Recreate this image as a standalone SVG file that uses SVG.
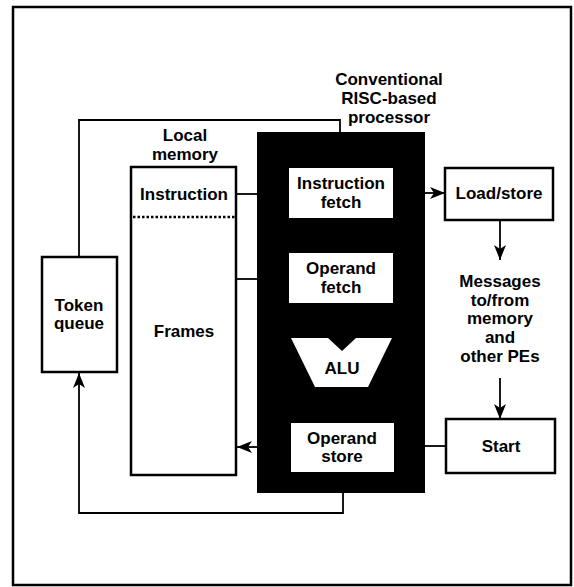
<svg xmlns="http://www.w3.org/2000/svg" width="574" height="587" viewBox="0 0 574 587">
<style>
.box{fill:#fff;stroke:#000;stroke-width:2.5}
.ln{fill:none;stroke:#000;stroke-width:1.8}
.t{font-family:"Liberation Sans",Arial,Helvetica,sans-serif;font-size:17px;font-weight:bold;text-anchor:middle;fill:#000}
</style>
<defs>
<marker id="ah" markerUnits="userSpaceOnUse" markerWidth="16" markerHeight="12" refX="15" refY="6" orient="auto">
<path d="M0,0 L15,6 L0,12 L4,6 Z" fill="#000"/>
</marker>
</defs>
<rect x="13" y="7" width="558" height="578" fill="#fff" stroke="#000" stroke-width="2.5"/>

<g id="connectors">
<polyline class="ln" points="79,257 79,120 340,120 340,132"/>
<polyline class="ln" points="343,493 343,513 79,513 79,373" marker-end="url(#ah)"/>
<line class="ln" x1="236" y1="194" x2="258" y2="194"/>
<line class="ln" x1="236" y1="279" x2="258" y2="279"/>
<line class="ln" x1="257" y1="447" x2="237" y2="447" marker-end="url(#ah)"/>
<line class="ln" x1="425" y1="193" x2="445" y2="193" marker-end="url(#ah)"/>
<line class="ln" x1="500" y1="220" x2="500" y2="260" marker-end="url(#ah)"/>
<line class="ln" x1="500" y1="378" x2="500" y2="419" marker-end="url(#ah)"/>
<line class="ln" x1="425" y1="446" x2="446" y2="446"/>
</g>

<g id="token-queue">
<rect class="box" x="42" y="257" width="75" height="115"/>
<text class="t" x="79" y="311">Token</text>
<text class="t" x="79" y="329">queue</text>
</g>

<g id="local-memory">
<text class="t" x="185" y="141">Local</text>
<text class="t" x="185" y="160">memory</text>
<rect class="box" x="131" y="167" width="105" height="308"/>
<line x1="133" y1="217" x2="235" y2="217" stroke="#000" stroke-width="2.5" stroke-dasharray="2.5,2"/>
<text class="t" x="184" y="200">Instruction</text>
<text class="t" x="184" y="337">Frames</text>
</g>

<g id="processor">
<text class="t" x="389" y="85">Conventional</text>
<text class="t" x="389" y="104">RISC-based</text>
<text class="t" x="389" y="123">processor</text>
<rect x="257" y="132" width="168" height="361" fill="#000"/>
</g>

<g id="instruction-fetch">
<rect x="289" y="168" width="104" height="50" fill="#fff"/>
<text class="t" x="341" y="189">Instruction</text>
<text class="t" x="341" y="208">fetch</text>
</g>

<g id="operand-fetch">
<rect x="289" y="253" width="104" height="50" fill="#fff"/>
<text class="t" x="341" y="274">Operand</text>
<text class="t" x="341" y="293">fetch</text>
</g>

<g id="alu">
<polygon points="291,338 328,338 342,351 356,338 392,338 368,387 315,387" fill="#fff"/>
<text class="t" x="342" y="374">ALU</text>
</g>

<g id="operand-store">
<rect x="291" y="423" width="103" height="49" fill="#fff"/>
<text class="t" x="342" y="444">Operand</text>
<text class="t" x="342" y="462">store</text>
</g>

<g id="load-store">
<rect class="box" x="445" y="168" width="108" height="52"/>
<text class="t" x="499" y="199">Load/store</text>
</g>

<g id="messages">
<text class="t" x="500" y="287">Messages</text>
<text class="t" x="500" y="306">to/from</text>
<text class="t" x="500" y="324">memory</text>
<text class="t" x="500" y="343">and</text>
<text class="t" x="500" y="362">other PEs</text>
</g>

<g id="start">
<rect class="box" x="446" y="419" width="109" height="54"/>
<text class="t" x="501" y="452">Start</text>
</g>
</svg>
